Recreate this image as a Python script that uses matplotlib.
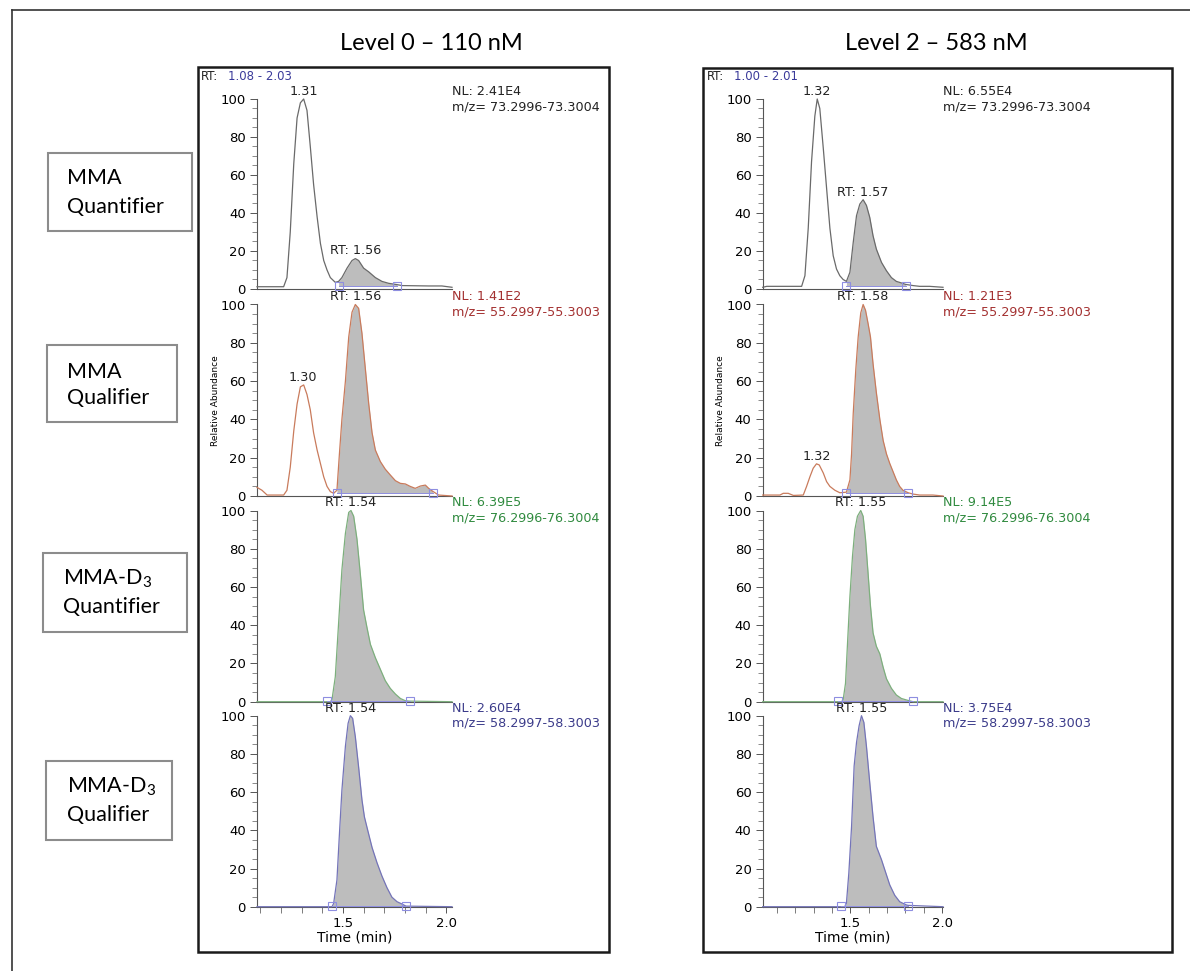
import numpy as np
import matplotlib.pyplot as plt
from matplotlib.patches import Rectangle
from matplotlib.lines import Line2D
from matplotlib.ticker import MultipleLocator

plt.rcParams['font.family'] = ['DejaVu Sans']
plt.rcParams['mathtext.fontset'] = 'custom'
plt.rcParams['mathtext.rm'] = 'Lato'

# headers / labels
levels = ['Level 0 – 110 nM', 'Level 2 – 583 nM']
rt_ranges = ['1.08 - 2.03', '1.00 - 2.01']
row_names = [('MMA', 'Quantifier'), ('MMA', 'Qualifier'),
             ('MMA-D$_3$', 'Quantifier'), ('MMA-D$_3$', 'Qualifier')]
mz_ranges = ['73.2996-73.3004', '55.2997-55.3003', '76.2996-76.3004', '58.2997-58.3003']
nl_level0 = ['2.41E4', '1.41E2', '6.39E5', '2.60E4']
nl_level2 = ['6.55E4', '1.21E3', '9.14E5', '3.75E4']

# ---- Level 0 traces (time in min, relative abundance %) ----
t_l0_quant = [1.084, 1.213, 1.229, 1.245, 1.262, 1.278, 1.294, 1.310, 1.326, 1.342, 1.358,
              1.375, 1.391, 1.407, 1.423, 1.439, 1.463, 1.479, 1.495, 1.520, 1.544, 1.560,
              1.576, 1.600, 1.625, 1.657, 1.689, 1.721, 1.762, 1.786, 1.915, 1.979, 2.028]
i_l0_quant = [1.2, 1.2, 6, 30, 66, 90, 98, 100, 94, 75, 55, 38, 24, 15, 10, 6, 3.5, 4, 6,
              11, 15, 16, 15, 11, 9, 6, 4, 3, 2.3, 1.8, 1.6, 1.6, 0.9]

t_l0_qual = [1.084, 1.108, 1.133, 1.213, 1.229, 1.245, 1.262, 1.278, 1.294, 1.310, 1.326,
             1.342, 1.358, 1.375, 1.391, 1.407, 1.423, 1.439, 1.455, 1.471, 1.483, 1.495,
             1.512, 1.528, 1.544, 1.560, 1.576, 1.592, 1.608, 1.625, 1.641, 1.657, 1.681,
             1.705, 1.729, 1.754, 1.778, 1.802, 1.826, 1.850, 1.875, 1.899, 1.915, 1.934,
             1.963, 2.028]
i_l0_qual = [4.5, 3, 0.5, 0.5, 3, 15, 34, 48, 57, 58, 53, 45, 33, 24, 17, 10, 5, 2.3, 1.4,
             3, 22, 40, 60, 83, 96, 100, 98, 85, 67, 48, 33, 24, 18, 14, 11, 8, 6.6, 6.3,
             5, 4, 5.2, 5.7, 4, 2.5, 0.5, 0]

t_l0_d3quant = [1.084, 1.423, 1.439, 1.447, 1.463, 1.479, 1.495, 1.512, 1.528, 1.539, 1.552,
                1.568, 1.584, 1.600, 1.616, 1.633, 1.657, 1.681, 1.705, 1.729, 1.754, 1.778,
                1.802, 1.823, 2.028]
i_l0_d3quant = [0, 0, 0, 1, 13, 41, 69, 88, 99, 100, 97, 85, 67, 48, 39, 30, 23, 17, 11, 7,
                4, 1.7, 0.5, 0.3, 0]

t_l0_d3qual = [1.084, 1.447, 1.455, 1.471, 1.483, 1.495, 1.512, 1.525, 1.536, 1.547, 1.560,
               1.576, 1.592, 1.604, 1.620, 1.641, 1.665, 1.689, 1.713, 1.737, 1.762, 1.786,
               1.805, 2.028]
i_l0_d3qual = [0, 0, 1.7, 14, 38, 61, 84, 96, 100, 98.6, 89, 73, 56, 47, 40, 31, 23, 16, 10,
               5, 2.6, 1.4, 0.3, 0]

# ---- Level 2 traces ----
t_l2_quant = [1.023, 1.045, 1.235, 1.253, 1.271, 1.289, 1.307, 1.320, 1.334, 1.353, 1.371,
              1.389, 1.407, 1.425, 1.443, 1.461, 1.479, 1.498, 1.516, 1.534, 1.552, 1.570,
              1.588, 1.606, 1.624, 1.642, 1.670, 1.697, 1.724, 1.751, 1.778, 1.802, 1.842,
              1.878, 1.932, 2.005]
i_l2_quant = [0.9, 1.4, 1.4, 7, 32, 67, 91, 100, 95, 74, 53, 32, 17.5, 10.5, 7, 5, 4, 8.8,
              24.5, 38.6, 44.7, 47, 44, 37.7, 28, 21, 14, 9.6, 6, 4, 3.2, 2.4, 1.8, 1.4,
              1.4, 0.9]

t_l2_qual = [1.023, 1.117, 1.135, 1.162, 1.190, 1.244, 1.262, 1.280, 1.298, 1.316, 1.331,
             1.353, 1.371, 1.389, 1.416, 1.443, 1.479, 1.498, 1.507, 1.516, 1.530, 1.543,
             1.557, 1.570, 1.583, 1.597, 1.610, 1.624, 1.642, 1.661, 1.679, 1.697, 1.715,
             1.733, 1.751, 1.769, 1.787, 1.815, 1.842, 1.878, 1.950, 2.005]
i_l2_qual = [0.5, 0.5, 1.4, 1.4, 0.3, 0.5, 5, 10, 14.5, 16.8, 16.2, 12, 7.5, 5, 3, 1.7, 2,
             8.4, 22, 43, 66, 83, 95.6, 100, 97, 90, 83, 69, 54, 40, 29, 22, 17, 12.7, 8.4,
             5, 3, 1.7, 1, 0.5, 0.5, 0]

t_l2_d3quant = [1.023, 1.434, 1.452, 1.461, 1.474, 1.485, 1.498, 1.512, 1.525, 1.539, 1.557,
                1.570, 1.583, 1.597, 1.610, 1.624, 1.642, 1.661, 1.679, 1.697, 1.724, 1.751,
                1.778, 1.806, 1.842, 2.005]
i_l2_d3quant = [0, 0, 0, 0.9, 9.6, 30.6, 55, 76, 90, 97, 100, 97, 85, 67, 50, 36, 29, 25,
                18, 12, 7, 3.5, 1.7, 0.9, 0, 0]

t_l2_d3qual = [1.023, 1.452, 1.470, 1.479, 1.492, 1.507, 1.521, 1.534, 1.548, 1.561, 1.574,
               1.588, 1.606, 1.624, 1.642, 1.670, 1.688, 1.715, 1.742, 1.769, 1.806, 1.815,
               2.005]
i_l2_d3qual = [0, 0, 0, 1.8, 17.5, 42, 73.7, 86, 94.7, 100, 96.5, 84, 65, 47, 31.6, 24.6,
               19.3, 11.4, 6, 2.6, 0.9, 0.7, 0]

# integration windows (start, end, baseline level)
win_level0 = [(1.479, 1.762, 1.5), (1.471, 1.934, 1.5), (1.423, 1.823, 0.5), (1.447, 1.805, 0.3)]
win_level2 = [(1.479, 1.802, 1.8), (1.479, 1.815, 1.5), (1.434, 1.842, 0.5), (1.452, 1.815, 0.3)]

# peak labels (time, height, text)
lab_level0 = [[(1.310, 100, '1.31'), (1.560, 16, 'RT: 1.56')],
              [(1.560, 100, 'RT: 1.56'), (1.306, 58, '1.30')],
              [(1.539, 100, 'RT: 1.54')],
              [(1.536, 100, 'RT: 1.54')]]
lab_level2 = [[(1.320, 100, '1.32'), (1.570, 47, 'RT: 1.57')],
              [(1.570, 100, 'RT: 1.58'), (1.316, 16.8, '1.32')],
              [(1.557, 100, 'RT: 1.55')],
              [(1.561, 100, 'RT: 1.55')]]

traces = [
    [(t_l0_quant, i_l0_quant), (t_l0_qual, i_l0_qual), (t_l0_d3quant, i_l0_d3quant), (t_l0_d3qual, i_l0_d3qual)],
    [(t_l2_quant, i_l2_quant), (t_l2_qual, i_l2_qual), (t_l2_d3quant, i_l2_d3quant), (t_l2_d3qual, i_l2_d3qual)],
]
windows = [win_level0, win_level2]
labels = [lab_level0, lab_level2]
nls = [nl_level0, nl_level2]
xlims = [(1.084, 2.028), (1.023, 2.005)]

trace_cols = ['#6a6a6a', '#c97b5c', '#7daf7d', '#7474b8']
text_cols = ['#222222', '#a33030', '#2f8a3e', '#3b3b8a']
fill_col = '#bdbdbd'
base_col = '#8e8ee0'

# ---- layout (pixels) ----
W, H = 1190, 971
col_x = [(257, 452), (762.7, 943)]
row_y = [(99, 289), (304.5, 496), (510.5, 701.7), (715.7, 906.7)]
title_x = [431, 936]
rt_x = [201, 706.7]
boxes = [(198, 67, 609, 952), (703, 68, 1172, 952)]
name_boxes = [(48, 153, 192, 231, 67, 178, 207), (47, 345, 177, 422, 67, 372, 398),
              (43, 553, 187, 632, 63, 579, 607), (46, 761, 172, 840, 67, 787, 815)]


def fx(x):
    return x / W


def fy(y):
    return 1 - y / H


fig = plt.figure(figsize=(W / 100, H / 100), dpi=100)
fig.patch.set_facecolor('white')

# outer frame (top and left edges)
fig.add_artist(Line2D([fx(12), fx(1190)], [fy(10), fy(10)], color='#333333', lw=1.2))
fig.add_artist(Line2D([fx(12), fx(12)], [fy(10), fy(971)], color='#333333', lw=1.2))

for (x0, y0, x1, y1) in boxes:
    fig.add_artist(Rectangle((fx(x0), fy(y1)), fx(x1 - x0), (y1 - y0) / H, fill=False,
                             ec='#1a1a1a', lw=1.8, transform=fig.transFigure))

for (x0, y0, x1, y1, tx, ty1, ty2), (n1, n2) in zip(name_boxes, row_names):
    fig.add_artist(Rectangle((fx(x0), fy(y1)), fx(x1 - x0), (y1 - y0) / H, fill=False,
                             ec='#8c8c8c', lw=1.5, transform=fig.transFigure))
    fig.text(fx(tx), fy(ty1), n1, family='Lato', fontsize=15.5, ha='left', va='center')
    fig.text(fx(tx), fy(ty2), n2, family='Lato', fontsize=15.5, ha='left', va='center')

for c in range(2):
    fig.text(fx(title_x[c]), fy(43), levels[c], family='Lato', fontsize=17,
             ha='center', va='center')
    fig.text(fx(rt_x[c]), fy(77), 'RT:', fontsize=8.5, color='#222222', va='center')
    fig.text(fx(rt_x[c] + 27), fy(77), rt_ranges[c], fontsize=8.5, color='#3a3a9a',
             va='center')
    xa, xb = col_x[c]
    fig.text(fx(xa - 42), fy((row_y[1][0] + row_y[1][1]) / 2), 'Relative Abundance',
             rotation=90, fontsize=6.5, ha='center', va='center')
    fig.text(fx((xa + xb) / 2), fy(937), 'Time (min)', fontsize=10, ha='center', va='center')

    for r in range(4):
        ya, yb = row_y[r]
        ax = fig.add_axes([fx(xa), fy(yb), fx(xb - xa), (yb - ya) / H])
        ax.patch.set_alpha(0)
        t = np.array(traces[c][r][0])
        y = np.array(traces[c][r][1])
        s, e, base = windows[c][r]
        m = (t >= s) & (t <= e)
        ax.fill_between(t[m], y[m], base, color=fill_col, lw=0)
        ax.plot(t, y, color=trace_cols[r], lw=0.9, clip_on=False, zorder=3)
        ax.plot([s, e], [base, base], color=base_col, lw=0.7, marker='s', ms=6,
                mfc='none', mec=base_col, mew=0.8, clip_on=False, zorder=4)

        ax.set_xlim(*xlims[c])
        ax.set_ylim(0, 100)
        for sp in ['top', 'right']:
            ax.spines[sp].set_visible(False)
        for sp in ['left', 'bottom']:
            ax.spines[sp].set_color('#555555')
            ax.spines[sp].set_linewidth(0.8)

        ax.set_yticks([0, 20, 40, 60, 80, 100])
        ax.yaxis.set_minor_locator(MultipleLocator(5))
        ax.tick_params(axis='y', which='major', length=5, width=0.7, pad=3,
                       labelsize=9.5, color='#555555')
        ax.tick_params(axis='y', which='minor', length=3.5, width=0.6, color='#777777')

        if r == 3:
            ax.set_xticks([1.5, 2.0])
            ax.set_xticklabels(['1.5', '2.0'])
            ax.xaxis.set_minor_locator(MultipleLocator(0.1))
            ax.tick_params(axis='x', which='major', length=4.5, width=0.7, pad=3,
                           labelsize=9.5, color='#555555')
            ax.tick_params(axis='x', which='minor', length=4, width=0.6, color='#666666')
        else:
            ax.set_xticks([])

        ax.annotate('NL: ' + nls[c][r], xy=(1, 1), xycoords='axes fraction',
                    xytext=(0, 5.5), textcoords='offset points', ha='left', va='center',
                    fontsize=9.2, color=text_cols[r])
        ax.annotate('m/z= ' + mz_ranges[r], xy=(1, 1), xycoords='axes fraction',
                    xytext=(0, -5.5), textcoords='offset points', ha='left', va='center',
                    fontsize=9.2, color=text_cols[r])
        for pt, ph, txt in labels[c][r]:
            ax.annotate(txt, xy=(pt, ph), xytext=(0, 5.5), textcoords='offset points',
                        ha='center', va='center', fontsize=9.2, color='#222222')

fig.savefig('out.png', dpi=100, facecolor='white')
